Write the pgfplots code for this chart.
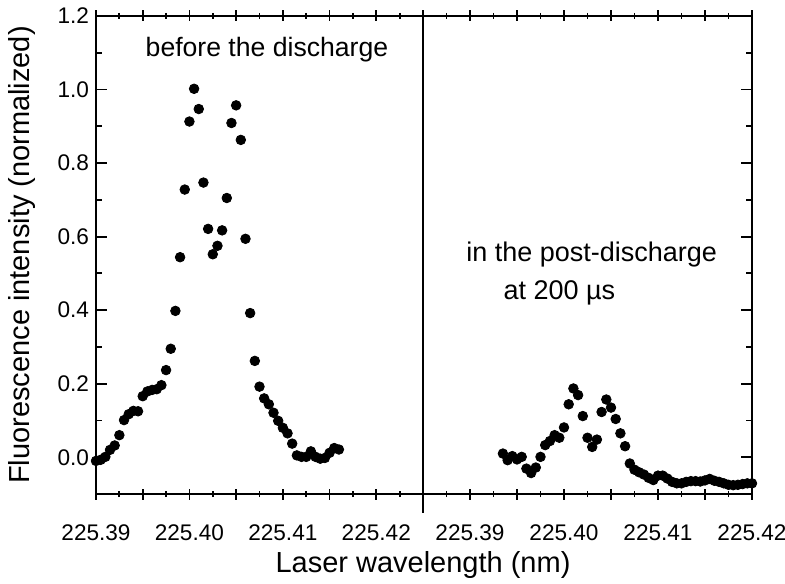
\documentclass[border=0pt]{standalone}
\usepackage{pgfplots}
\usepackage{pgfplotstable}
\pgfplotsset{compat=1.18}
\usepackage{fontspec}
\setmainfont{Liberation Sans}

% x = offset from 225.39 nm in pm
\pgfplotstableread{
x y
0 -0.010
0.5 -0.007
1.0 0.001
1.5 0.020
2.0 0.032
2.5 0.060
3.0 0.101
3.5 0.117
4.0 0.126
4.5 0.125
5.0 0.166
5.5 0.179
6.0 0.183
6.5 0.185
7.0 0.196
7.5 0.237
8.0 0.295
8.5 0.398
9.0 0.544
9.5 0.728
10.0 0.913
10.5 1.002
11.0 0.947
11.5 0.747
12.0 0.621
12.5 0.552
13.0 0.575
13.5 0.617
14.0 0.705
14.5 0.909
15.0 0.957
15.5 0.863
16.0 0.594
16.5 0.392
17.0 0.262
17.5 0.192
18.0 0.160
18.5 0.144
19.0 0.121
19.5 0.099
20.0 0.080
20.5 0.065
21.0 0.037
21.5 0.005
22.0 0.001
22.5 0.001
23.0 0.016
23.5 0.001
24.0 -0.004
24.5 -0.002
25.0 0.012
25.5 0.025
26.0 0.021
}\leftdata

\pgfplotstableread{
x y
3.5 0.010
4.0 -0.008
4.5 0.003
5.0 -0.006
5.5 0.001
6.0 -0.031
6.5 -0.043
7.0 -0.028
7.5 0.001
8.0 0.033
8.5 0.044
9.0 0.060
9.5 0.053
10.0 0.081
10.5 0.144
11.0 0.187
11.5 0.169
12.0 0.112
12.5 0.053
13.0 0.028
13.5 0.048
14.0 0.123
14.5 0.157
15.0 0.135
15.5 0.104
16.0 0.065
16.5 0.030
17.0 -0.017
17.5 -0.034
18.0 -0.041
18.5 -0.047
19.0 -0.056
19.5 -0.062
20.0 -0.050
20.5 -0.050
21.0 -0.058
21.5 -0.067
22.0 -0.071
22.5 -0.071
23.0 -0.067
23.5 -0.065
24.0 -0.065
24.5 -0.066
25.0 -0.063
25.5 -0.059
26.0 -0.064
26.5 -0.067
27.0 -0.071
27.5 -0.075
28.0 -0.076
28.5 -0.075
29.0 -0.073
29.5 -0.071
30.0 -0.071
}\rightdata

\begin{document}
\begin{tikzpicture}
\path[use as bounding box] (-48pt,-44.5pt) rectangle (344.5pt,247pt);
\pgfplotsset{
  common/.style={
    scale only axis, height=239pt,
    ymin=-0.1, ymax=1.2,
    ytick={0,0.2,0.4,0.6,0.8,1.0,1.2},
    minor y tick num=1,
    minor x tick num=1,
    axis line style={line width=0.9pt},
    every tick/.style={black, line width=0.9pt},
    major tick length=5.5pt, minor tick length=3pt,
    tick align=inside,
    xtick align=center,
    clip=false,
    ticklabel style={font=\fontsize{11.3}{13}\selectfont},
    xticklabel style={anchor=center, yshift=-16.5pt},
    yticklabel style={/pgf/number format/.cd, fixed, fixed zerofill, precision=1, assume math mode=true},
  }
}
\begin{axis}[common, at={(0,0)}, anchor=south west, width=163.5pt,
  xmin=0, xmax=35,
  xtick={0,5,10,15,20,25,30,35},
  xticklabels={225.39,,225.40,,225.41,,225.42,},
  ytick pos=left]
\addplot[only marks, mark=*, mark size=2.4pt, black] table {\leftdata};
\node[font=\fontsize{13.3}{16}\selectfont] at (axis cs:18.3,1.109) {before the discharge};
\node[rotate=90, font=\fontsize{14.5}{17}\selectfont] at (rel axis cs:-0.2263,0.5) {Fluorescence intensity (normalized)};
\end{axis}
\begin{axis}[common, at={(163.5pt,0)}, anchor=south west, width=164.5pt,
  xmin=-5, xmax=30,
  xtick={-5,0,5,10,15,20,25,30},
  xticklabels={,225.39,,225.40,,225.41,,225.42},
  ytick pos=right, yticklabels={}]
\addplot[only marks, mark=*, mark size=2.4pt, black] table {\rightdata};
\node[anchor=west, inner sep=0pt, font=\fontsize{13.5}{16}\selectfont] at (axis cs:-0.43,0.550) {in the post-discharge};
\node[anchor=west, inner sep=0pt, font=\fontsize{13.5}{16}\selectfont] at (axis cs:3.53,0.447) {at 200 µs};
\draw[line width=1.3pt] (rel axis cs:0,1) -- (rel axis cs:0,-0.04);
\node[font=\fontsize{14.5}{17}\selectfont] at (rel axis cs:0,-0.1485) {Laser wavelength (nm)};
\end{axis}
\end{tikzpicture}
\end{document}
